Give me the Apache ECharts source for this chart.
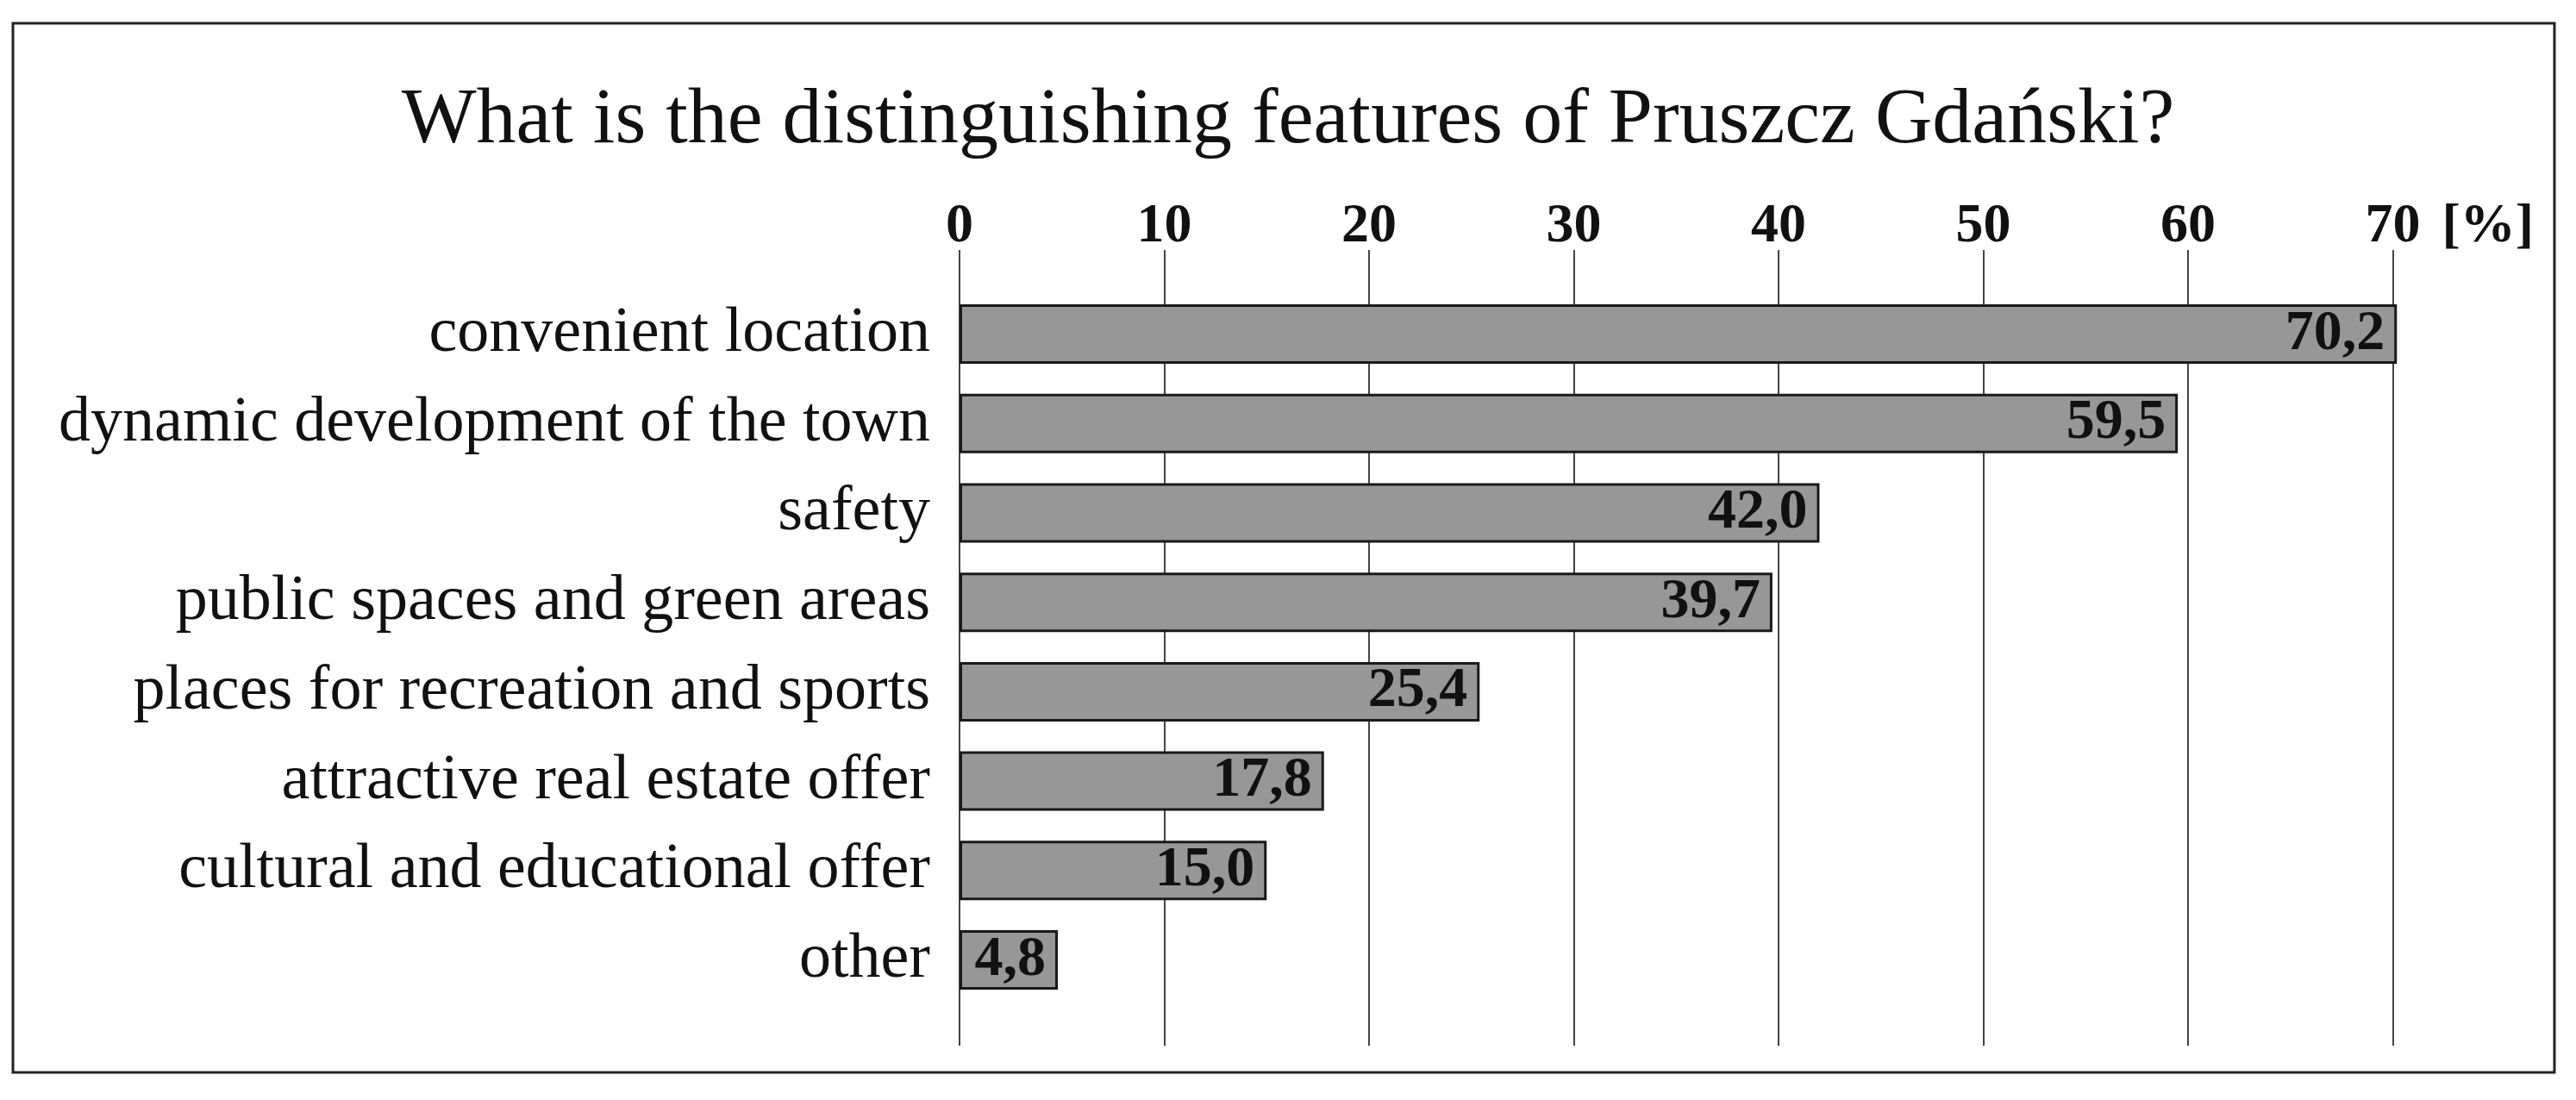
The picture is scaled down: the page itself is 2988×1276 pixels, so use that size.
<!DOCTYPE html>
<html>
<head>
<meta charset="utf-8">
<script src="https://cdn.jsdelivr.net/npm/echarts@6/dist/echarts.min.js"></script>
<style>
    html, body { margin: 0; padding: 0; background: #fff; }
    #chart { width: 2988px; height: 1276px; }
</style>
</head>
<body>
<div id="chart"></div>
<script>
const titleText = "What is the distinguishing features of Pruszcz Gdański?";
const categories = [
    "convenient location",
    "dynamic development of the town",
    "safety",
    "public spaces and green areas",
    "places for recreation and sports",
    "attractive real estate offer",
    "cultural and educational offer",
    "other"
];
const values = [70.2, 59.5, 42.0, 39.7, 25.4, 17.8, 15.0, 4.8];
const axisMin = 0;
const axisMax = 70;
const axisStep = 10;
const unitName = "[%]";

const serif = "Liberation Serif";
const chart = echarts.init(document.getElementById("chart"));

chart.setOption({
    backgroundColor: "#fff",
    animation: false,
    title: {
        text: titleText,
        left: "center",
        top: 90,
        textStyle: {
            fontFamily: serif,
            fontWeight: "normal",
            fontSize: 92,
            color: "#111"
        }
    },
    graphic: [{
        type: "rect",
        shape: { x: 15, y: 27, width: 2948, height: 1217 },
        style: { fill: "none", stroke: "#222", lineWidth: 3 }
    }],
    grid: [
        // taller grid: only the top scale and the vertical lines
        { left: 1113, right: 212.5, top: 290, bottom: 63 },
        // grid for the bars
        { left: 1113, right: 212.5, top: 335.7, bottom: 110.6 }
    ],
    xAxis: [{
        gridIndex: 0,
        type: "value",
        position: "top",
        min: axisMin,
        max: axisMax,
        interval: axisStep,
        name: unitName,
        nameLocation: "end",
        nameGap: 57,
        nameTextStyle: {
            fontFamily: serif,
            fontWeight: "bold",
            fontSize: 64,
            lineHeight: 54,
            color: "#111",
            verticalAlign: "bottom"
        },
        axisLine: { show: false, onZero: false },
        axisTick: { show: false },
        axisLabel: {
            margin: -5,
            fontFamily: serif,
            fontWeight: "bold",
            fontSize: 64,
            color: "#111"
        },
        splitLine: {
            show: true,
            lineStyle: { color: "#444", width: 2 }
        }
    }, {
        gridIndex: 1,
        type: "value",
        min: axisMin,
        max: axisMax,
        show: false
    }],
    yAxis: [{
        gridIndex: 0,
        type: "value",
        show: false
    }, {
        gridIndex: 1,
        type: "category",
        inverse: true,
        data: categories,
        axisLine: { show: false },
        axisTick: { show: false },
        axisLabel: {
            margin: 34,
            fontFamily: serif,
            fontSize: 74,
            color: "#111"
        }
    }],
    series: [{
        type: "bar",
        xAxisIndex: 1,
        yAxisIndex: 1,
        data: values,
        barWidth: 69,
        clip: false,
        itemStyle: {
            color: "#979797",
            borderColor: "#1a1a1a",
            borderWidth: 3
        },
        label: {
            show: true,
            position: "insideRight",
            distance: 14,
            fontFamily: serif,
            fontWeight: "bold",
            fontSize: 66,
            color: "#111",
            formatter: function (p) {
                return p.value.toFixed(1).replace(".", ",");
            }
        }
    }]
});
</script>
</body>
</html>
